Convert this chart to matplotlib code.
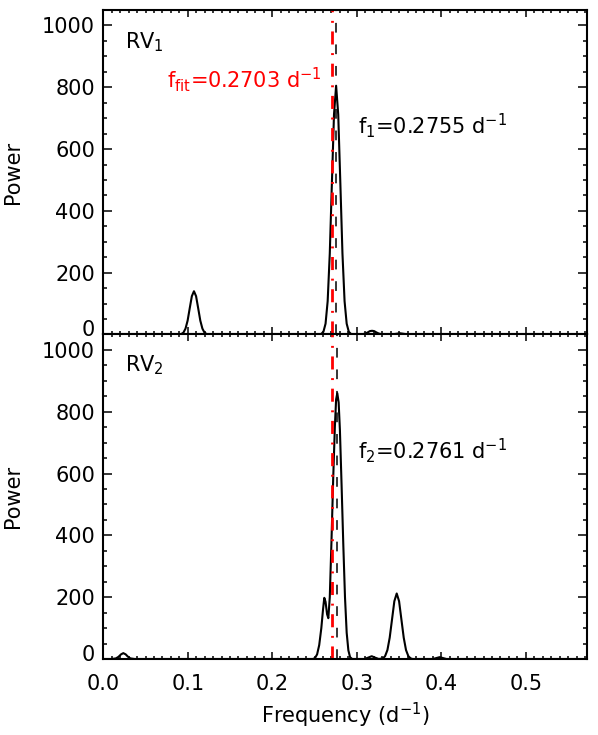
import matplotlib
matplotlib.use('Agg')
import matplotlib.pyplot as plt
from matplotlib.ticker import FixedLocator, MultipleLocator

# ---------------- data ----------------
freq1 = [0.000, 0.085, 0.0923, 0.0948, 0.0973, 0.0998, 0.1023, 0.1048, 0.1073,
         0.1098, 0.1123, 0.1148, 0.1173, 0.1198, 0.1223, 0.1260, 0.2550, 0.2580,
         0.2605, 0.2630, 0.2655, 0.2680, 0.2705, 0.2730, 0.2755, 0.2780, 0.2805,
         0.2830, 0.2855, 0.2880, 0.2905, 0.2930, 0.2960, 0.3050, 0.3100, 0.3130,
         0.3155, 0.3180, 0.3205, 0.3230, 0.3260, 0.3310, 0.3400, 0.3460, 0.3510,
         0.3560, 0.3620, 0.5730]
power1 = [0, 0, 1.5, 6, 19, 45, 85, 124, 140,
          124, 85, 45, 19, 6, 1.5, 0, 0, 2,
          9, 35, 108, 262, 490, 712, 805, 712, 490,
          262, 108, 35, 9, 2, 0, 0, 3, 7,
          11, 12, 11, 7, 3, 0, 0, 2, 4,
          2, 0, 0]

freq2 = [0.000, 0.010, 0.0150, 0.0180, 0.0210, 0.0237, 0.0265, 0.0290, 0.0320,
         0.0370, 0.2480, 0.2505, 0.2530, 0.2555, 0.2580, 0.2600, 0.2615, 0.2630,
         0.2648, 0.2663, 0.2680, 0.2700, 0.2720, 0.2740, 0.2755, 0.2769, 0.2785,
         0.2800, 0.2820, 0.2840, 0.2860, 0.2880, 0.2900, 0.2920, 0.2945, 0.3090,
         0.3130, 0.3176, 0.3220, 0.3260, 0.3307, 0.3334, 0.3362, 0.3389, 0.3417,
         0.3444, 0.3472, 0.3500, 0.3527, 0.3555, 0.3582, 0.3610, 0.3637, 0.3660,
         0.3900, 0.3940, 0.3980, 0.4020, 0.4060, 0.5730]
power2 = [0, 0, 2, 7, 15, 19, 15, 8, 2,
          0, 0, 3, 15, 45, 100, 160, 198, 185,
          145, 132, 200, 380, 580, 750, 840, 860, 830,
          740, 560, 370, 200, 85, 28, 6, 0, 0,
          4, 9, 4, 0, 2, 9, 29, 69, 129,
          187, 212, 187, 129, 69, 29, 9, 2, 0,
          0, 3, 6, 3, 0, 0]

f_fit = 0.2703
f_1 = 0.2755
f_2 = 0.2761

x_ticks = [0.0, 0.1, 0.2, 0.3, 0.4, 0.5]
x_ticklabels = ['0.0', '0.1', '0.2', '0.3', '0.4', '0.5']
y_ticks = [0, 200, 400, 600, 800, 1000]
y_ticklabels = ['0', '200', '400', '600', '800', '1000']

panel_labels = [r'RV$_1$', r'RV$_2$']
peak_labels = [r'$\mathrm{f_1}$=0.2755 d$^{-1}$', r'$\mathrm{f_2}$=0.2761 d$^{-1}$']
fit_label = r'$\mathrm{f_{fit}}$=0.2703 d$^{-1}$'

# ---------------- style ----------------
plt.rcParams['font.family'] = ['DejaVu Sans']
plt.rcParams['mathtext.fontset'] = 'dejavusans'
plt.rcParams['lines.scale_dashes'] = False

fig = plt.figure(figsize=(5.98, 7.35), dpi=100)
ax_top = fig.add_axes([0.1727, 0.5449, 0.8094, 0.4415])
ax_bot = fig.add_axes([0.1727, 0.1034, 0.8094, 0.4415])

XMAX = 0.5727
YMIN, YMAX = 0, 1050

def style(ax, show_xlabels):
    ax.set_xlim(0, XMAX)
    ax.set_ylim(YMIN, YMAX)
    for s in ax.spines.values():
        s.set_linewidth(1.5)
    ax.xaxis.set_major_locator(FixedLocator(x_ticks))
    ax.xaxis.set_minor_locator(MultipleLocator(0.01))
    ax.yaxis.set_major_locator(FixedLocator(y_ticks))
    ax.yaxis.set_minor_locator(MultipleLocator(50))
    ax.set_xticklabels(x_ticklabels if show_xlabels else [''] * len(x_ticks))
    # the zero label is drawn separately (slightly raised as in the reference)
    ax.set_yticklabels([''] + y_ticklabels[1:])
    ax.annotate(y_ticklabels[0], xy=(0, y_ticks[0]),
                xycoords=('axes fraction', 'data'),
                xytext=(-6.2, 4.5), textcoords='offset points',
                ha='right', va='center_baseline', fontsize=15)
    ax.tick_params(which='both', direction='in', top=True, right=True,
                   labelbottom=show_xlabels)
    ax.tick_params(axis='y', which='major', length=6.5, width=1.1, pad=6,
                   labelsize=15)
    ax.tick_params(axis='y', which='minor', length=3.2, width=1.1)
    ax.tick_params(axis='x', which='major', length=5, width=1.1, pad=10.5,
                   labelsize=15)
    ax.tick_params(axis='x', which='minor', length=2.5, width=1.1)
    ax.set_ylabel('Power', fontsize=15)
    ax.yaxis.set_label_coords(-0.166, 0.5)

style(ax_top, False)
style(ax_bot, True)

ax_top.plot(freq1, power1, color='black', lw=1.5, solid_joinstyle='round')
ax_bot.plot(freq2, power2, color='black', lw=1.5, solid_joinstyle='round')

for ax, f in ((ax_top, f_1), (ax_bot, f_2)):
    ax.axvline(f, color='black', lw=1.1, dashes=(7, 8.5))
    ax.axvline(f_fit, color='#ff0000', lw=2.0, dashes=(9.4, 6.2, 1.4, 6.2))

ax_top.text(0.0448, 0.883, panel_labels[0], transform=ax_top.transAxes,
            fontsize=15, va='baseline', ha='left')
ax_bot.text(0.0448, 0.886, panel_labels[1], transform=ax_bot.transAxes,
            fontsize=15, va='baseline', ha='left')

ax_top.text(0.075, 800, fit_label, color='#ff0000', fontsize=15,
            va='baseline', ha='left')
ax_top.text(0.301, 650, peak_labels[0], color='black', fontsize=15,
            va='baseline', ha='left')
ax_bot.text(0.301, 650, peak_labels[1], color='black', fontsize=15,
            va='baseline', ha='left')

ax_bot.set_xlabel(r'Frequency (d$^{-1}$)', fontsize=15)
ax_bot.xaxis.set_label_coords(0.5, -0.13)

fig.savefig('out.png', dpi=100)
